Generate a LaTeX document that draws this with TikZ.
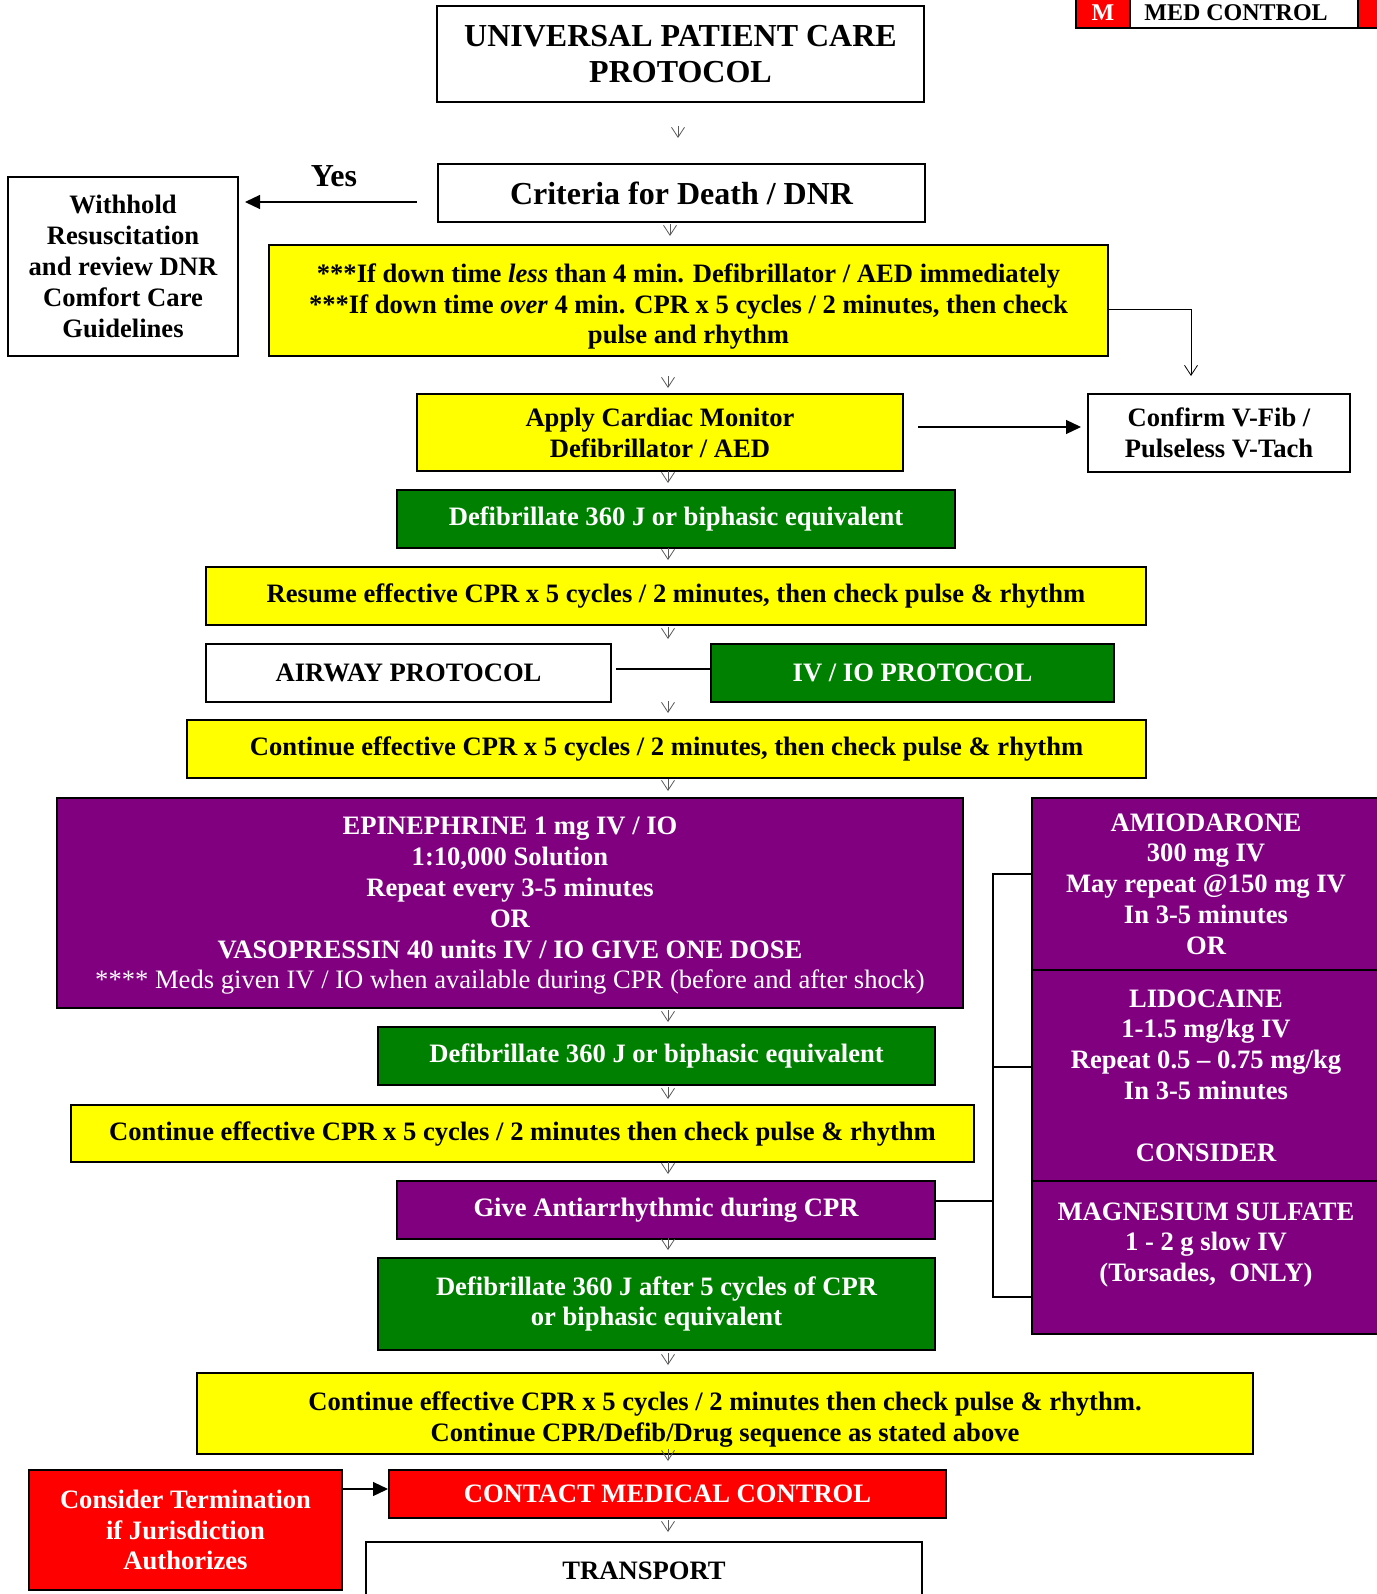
\documentclass[tikz,border=0pt]{standalone}
\usepackage{fontspec}
\setmainfont{Liberation Serif}
\usetikzlibrary{arrows.meta}
\definecolor{medyellow}{RGB}{255,255,0}
\definecolor{medgreen}{RGB}{0,128,0}
\definecolor{medpurple}{RGB}{128,0,128}
\definecolor{medred}{RGB}{255,0,0}
\definecolor{tickgray}{RGB}{90,90,90}
\tikzset{
	box/.style={draw, line width=1pt, fill=white, inner sep=0pt, align=center,
		font=\bfseries\fontsize{13.3}{15.4}\selectfont},
	ybox/.style={box, fill=medyellow},
	gbox/.style={box, fill=medgreen, text=white},
	pbox/.style={box, fill=medpurple, text=white},
	rbox/.style={box, fill=medred, text=white},
	link/.style={line width=0.6pt},
	solidarrow/.style={line width=0.6pt, -{Triangle[length=7.5pt,width=7pt]}},
	openarrow/.style={line width=0.4pt, -{Straight Barb[length=5pt,width=6.5pt]}},
	tick/.style={line width=0.4pt, draw=tickgray, -{Straight Barb[length=5pt,width=6.5pt]}}}
\tikzset{every picture/.style={line width=0.75pt}}

\begin{document}
\begin{tikzpicture}[x=0.5pt,y=0.5pt,yscale=-1,xscale=1]
	\useasboundingbox (0,0) rectangle (1376,1594);
	\coordinate (cx) at (668,0);
	\coordinate (cxT) at (678,0);
	\coordinate (cxC) at (670,0);

	% header tab
	\node[rbox, minimum width=27pt, minimum height=15pt, font=\bfseries\fontsize{12}{13}\selectfont] (mtab) at (1103,13) {M};
	\node[box, minimum width=114pt, minimum height=15pt, font=\bfseries\fontsize{12}{13}\selectfont] (medctl) at (1244,13) {MED CONTROL\hspace*{8pt}};
	\node[rbox, minimum width=16pt, minimum height=15pt] (mtail) at (1374,13) {};

	% top of the chart
	\node[box, minimum width=243.5pt, minimum height=48pt, font=\bfseries\fontsize{16}{18}\selectfont] (title) at (680.5,54) {UNIVERSAL PATIENT CARE\\PROTOCOL};
	\node[box, minimum width=243.5pt, minimum height=29pt, font=\bfseries\fontsize{16}{18}\selectfont] (crit) at (681.5,193) {Criteria for Death / DNR};
	\node[font=\bfseries\fontsize{16}{18}\selectfont] (yes) at (334,176) {Yes};
	\node[box, minimum width=115pt, minimum height=89.5pt] (withhold) at (123,266.5) {Withhold\\Resuscitation\\and review DNR\\Comfort Care\\Guidelines};
	\node[ybox, minimum width=419.5pt, minimum height=55.5pt, text depth=0pt] (down) at (688.5,300.5) {\rule{0pt}{12.5pt}***If down time \textit{less} than 4 min. Defibrillator / AED immediately\\***If down time \textit{over} 4 min. CPR x 5 cycles / 2 minutes, then check\\pulse and rhythm};
	\node[ybox, minimum width=243pt, minimum height=38.5pt, text depth=0pt] (apply) at (660,432.5) {Apply Cardiac Monitor\\Defibrillator / AED};
	\node[box, minimum width=131pt, minimum height=39pt] (confirm) at (1219,433) {Confirm V-Fib /\\Pulseless V-Tach};
	\node[gbox, minimum width=279pt, minimum height=29pt] (defibA) at (676,519) {Defibrillate 360 J or biphasic equivalent};
	\node[ybox, minimum width=470pt, minimum height=29pt] (resume) at (676,596) {Resume effective CPR x 5 cycles / 2 minutes, then check pulse \& rhythm};
	\node[box, minimum width=202.5pt, minimum height=29pt] (airway) at (408.5,673) {AIRWAY PROTOCOL};
	\node[gbox, minimum width=201.5pt, minimum height=29pt] (ivio) at (912.5,673) {IV / IO PROTOCOL};
	\node[ybox, minimum width=479.5pt, minimum height=29pt] (contA) at (666.5,749) {Continue effective CPR x 5 cycles / 2 minutes, then check pulse \& rhythm};

	% drugs
	\node[pbox, minimum width=453pt, minimum height=105pt, text depth=0pt] (epi) at (510,903) {EPINEPHRINE 1 mg IV / IO\\1:10,000 Solution\\Repeat every 3-5 minutes\\OR\\VASOPRESSIN 40 units IV / IO GIVE ONE DOSE\\{\mdseries **** Meds given IV / IO when available during CPR (before and after shock)}};
	\node[pbox, minimum width=174pt, minimum height=86pt] (amio) at (1206,884) {AMIODARONE\\300 mg IV\\May repeat @150 mg IV\\In 3-5 minutes\\OR};
	\node[pbox, minimum width=174pt, minimum height=105.5pt] (lido) at (1206,1075.5) {LIDOCAINE\\1-1.5 mg/kg IV\\Repeat 0.5 – 0.75 mg/kg\\In 3-5 minutes\\[15.4pt]CONSIDER};
	\node[pbox, minimum width=174pt, minimum height=76.5pt] (mag) at (1206,1257.5) {MAGNESIUM SULFATE\\1 - 2 g slow IV\\(Torsades,\ \ ONLY)\\ ~};
	\node[gbox, minimum width=278.5pt, minimum height=29pt] (defibB) at (656.5,1056) {Defibrillate 360 J or biphasic equivalent};
	\node[ybox, minimum width=451.5pt, minimum height=28.5pt] (contB) at (522.5,1133.5) {Continue effective CPR x 5 cycles / 2 minutes then check pulse \& rhythm};
	\node[pbox, minimum width=269pt, minimum height=29pt] (give) at (666,1210) {Give Antiarrhythmic during CPR};
	\node[gbox, minimum width=278.5pt, minimum height=46pt] (defibC) at (656.5,1304) {Defibrillate 360 J after 5 cycles of CPR\\or biphasic equivalent};

	% bottom of the chart
	\node[ybox, minimum width=528pt, minimum height=40.5pt, text depth=0pt] (contC) at (725,1413.5) {\rule{0pt}{12.5pt}Continue effective CPR x 5 cycles / 2 minutes then check pulse \& rhythm.\\Continue CPR/Defib/Drug sequence as stated above};
	\node[rbox, minimum width=156.5pt, minimum height=60pt] (term) at (185.5,1530) {Consider Termination\\if Jurisdiction\\Authorizes};
	\node[rbox, minimum width=278.5pt, minimum height=24pt] (contact) at (667.5,1494) {CONTACT MEDICAL CONTROL};
	\node[box, minimum width=278pt, minimum height=29pt] (transport) at (644,1571) {TRANSPORT};

	% arrows and links
	\coordinate (yesend) at (245,202);
	\coordinate (vfibend) at (1191,376);
	\draw[solidarrow] ([xshift=-10pt,yshift=4.5pt]crit.west) -- (yesend);
	\draw[openarrow] ([yshift=4.25pt]down.east) -| (vfibend);
	\draw[solidarrow] ([xshift=7pt,yshift=-2.75pt]apply.east) -- ([xshift=-3pt,yshift=-3pt]confirm.west);
	\draw[link] ([xshift=2pt,yshift=-2pt]airway.east) -- ([yshift=-2pt]ivio.west);
	\draw[solidarrow] ([yshift=-20.5pt]term.east) -- ([yshift=-2.5pt]contact.west);

	% bracket to the antiarrhythmics
	\coordinate (brkT) at (993,874);
	\coordinate (brkL) at (993,1067);
	\coordinate (brkG) at (993,1201);
	\coordinate (brkB) at (993,1297);
	\draw[link] ([yshift=-5pt]amio.west) -- (brkT) -- (brkB) -- ([yshift=19.75pt]mag.west);
	\draw[link] ([yshift=-4.25pt]lido.west) -- (brkL);
	\draw[link] ([yshift=-4.5pt]give.east) -- (brkG);

	% small down ticks
	\draw[tick] (crit.north -| cxT) ++(0,-37) -- ++(0,12);
	\draw[tick] (crit.south -| cxC) ++(0,1) -- ++(0,12);
	\draw[tick] (apply.north -| cx) ++(0,-17) -- ++(0,12);
	\draw[tick] (defibA.north -| cx) ++(0,-18) -- ++(0,12);
	\draw[tick] (resume.north -| cx) ++(0,-18) -- ++(0,12);
	\draw[tick] (resume.south -| cx) ++(0,1) -- ++(0,12);
	\draw[tick] (contA.north -| cx) ++(0,-18) -- ++(0,12);
	\draw[tick] (epi.north -| cx) ++(0,-18) -- ++(0,12);
	\draw[tick] (defibB.north -| cx) ++(0,-16) -- ++(0,12);
	\draw[tick] (contB.north -| cx) ++(0,-17) -- ++(0,12);
	\draw[tick] (give.north -| cx) ++(0,-18) -- ++(0,12);
	\draw[tick] (defibC.north -| cx) ++(0,-19) -- ++(0,12);
	\draw[tick] (contC.north -| cx) ++(0,-19) -- ++(0,12);
	\draw[tick] (contact.north -| cx) ++(0,-20) -- ++(0,12);
	\draw[tick] (transport.north -| cx) ++(0,-21) -- ++(0,12);
\end{tikzpicture}
\end{document}
